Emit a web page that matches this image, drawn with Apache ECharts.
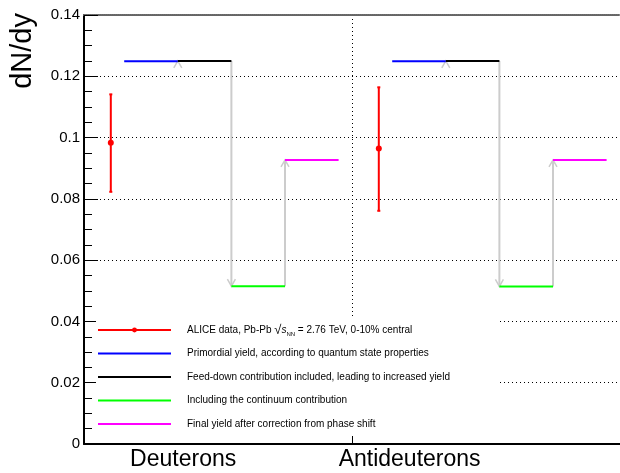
<!DOCTYPE html>
<html>
<head>
<meta charset="utf-8">
<script src="https://cdn.jsdelivr.net/npm/echarts@6/dist/echarts.min.js"></script>
<style>
html, body { margin: 0; padding: 0; background: #fff; }
#chart { width: 620px; height: 473px; }
</style>
</head>
<body>
<div id="chart"></div>
<script>
// 两个粒子种类
var categories = ['Deuterons', 'Antideuterons'];
var labelPos = [0.37, 1.215];
// ALICE 数据点和误差
var dataX = [0.1, 1.1];
var dataY = [0.0983, 0.0964];
var dataLo = [0.0823, 0.0761];
var dataHi = [0.1141, 0.1164];
// 各个阶段的产额
var primordial = [0.1249, 0.1249];
var feeddown = [0.125, 0.125];
var continuum = [0.0515, 0.0514];
var finalYield = [0.0927, 0.0927];
// 每段台阶在 bin 里的起止 x
var segEdges = [0.15, 0.35, 0.55, 0.75, 0.95];

var names = [
    'ALICE data, Pb-Pb sqrt(sNN) = 2.76 TeV, 0-10% central',
    'Primordial yield, according to quantum state properties',
    'Feed-down contribution included, leading to increased yield',
    'Including the continuum contribution',
    'Final yield after correction from phase shift'
];

// 生成台阶线段，中间用 '-' 断开
function steps(vals, i) {
    var d = [];
    for (var k = 0; k < vals.length; k++) {
        if (k > 0) d.push([k, '-']);
        d.push([k + segEdges[i], vals[k]]);
        d.push([k + segEdges[i + 1], vals[k]]);
    }
    return d;
}

var pts = [];
for (var k = 0; k < dataX.length; k++) {
    if (k > 0) pts.push([(dataX[k - 1] + dataX[k]) / 2, '-']);
    pts.push([dataX[k], dataY[k]]);
}

var errs = [];
for (var k = 0; k < dataX.length; k++) errs.push([dataX[k], dataLo[k], dataHi[k]]);

// 灰色箭头: [x, 起点, 终点]
var arrows = [];
for (var k = 0; k < primordial.length; k++) {
    arrows.push([k + segEdges[1], primordial[k], feeddown[k]]);
    arrows.push([k + segEdges[2], feeddown[k], continuum[k]]);
    arrows.push([k + segEdges[3], continuum[k], finalYield[k]]);
}

// 图例: 只有第一个有圆点
var legendData = names.map(function (n, i) {
    return i === 0 ? { name: n } : { name: n, itemStyle: { opacity: 0 } };
});

var myChart = echarts.init(document.getElementById('chart'));
myChart.setOption({
    animation: false,
    textStyle: { fontFamily: 'Liberation Sans, Arial, sans-serif' },
    grid: { left: 84, right: -4, top: 15, bottom: 29 },
    xAxis: [{
        type: 'value', min: 0, max: 2, interval: 1, position: 'bottom',
        axisLine: { lineStyle: { color: '#000', width: 2 } },
        axisTick: { show: true, inside: true, length: 9, customValues: [1], lineStyle: { color: '#000' } },
        axisLabel: {
            customValues: labelPos, fontSize: 23, color: '#000', margin: 4,
            formatter: function (v) {
                var i = labelPos.indexOf(v);
                return i < 0 ? '' : categories[i];
            }
        },
        splitLine: { show: true, lineStyle: { type: [1, 3], color: '#000' } }
    }, {
        type: 'value', min: 0, max: 2, position: 'top',
        axisLine: { show: true, lineStyle: { color: '#666', width: 2, type: [1, 1] } },
        axisTick: { show: false }, axisLabel: { show: false }, splitLine: { show: false }
    }],
    yAxis: {
        type: 'value', min: 0, max: 0.14, interval: 0.02,
        name: 'dN/dy', nameLocation: 'end', nameRotate: 90, nameGap: 2,
        nameTextStyle: { fontSize: 29, color: '#000', align: 'right', verticalAlign: 'bottom', padding: [0, 0, 47, 0] },
        axisLine: { show: true, lineStyle: { color: '#000', width: 2 } },
        axisTick: { show: true, inside: true, length: 14, lineStyle: { color: '#000' } },
        minorTick: { show: true, splitNumber: 4, length: 8, lineStyle: { color: '#000' } },
        axisLabel: { fontSize: 15, color: '#000', margin: 4 },
        splitLine: { show: true, lineStyle: { type: [1, 3], color: '#000' } }
    },
    legend: {
        orient: 'vertical', left: 96, top: 317,
        padding: [6, 49, 5, 1],
        backgroundColor: '#fff',
        itemWidth: 73, itemHeight: 6, itemGap: 9.5,
        data: legendData,
        textStyle: {
            fontSize: 10, color: '#000', lineHeight: 14, padding: [0, 0, 0, 11],
            rich: {
                a: { fontSize: 10, lineHeight: 14 },
                r: { fontSize: 13, lineHeight: 14 },
                s: { fontSize: 10, fontStyle: 'italic', lineHeight: 14 },
                n: { fontSize: 6, lineHeight: 10, verticalAlign: 'bottom' }
            }
        },
        formatter: function (name) {
            if (name === names[0]) return '{a|ALICE data, Pb-Pb }{r|√}{s|s}{n|NN}{a| = 2.76 TeV, 0-10% central}';
            return name;
        }
    },
    series: [{
        // 箭头
        type: 'custom',
        data: arrows,
        z: 1,
        renderItem: function (params, api) {
            var p0 = api.coord([api.value(0), api.value(1)]);
            var p1 = api.coord([api.value(0), api.value(2)]);
            var dir = p1[1] < p0[1] ? 1 : -1;
            var h = 7, w = 4;
            return {
                type: 'group',
                children: [{
                    type: 'line',
                    shape: { x1: p0[0], y1: p0[1], x2: p1[0], y2: p1[1] },
                    style: { stroke: '#cccccc', lineWidth: 2 }
                }, {
                    type: 'polyline',
                    shape: { points: [[p1[0] - w, p1[1] + dir * h], [p1[0], p1[1]], [p1[0] + w, p1[1] + dir * h]] },
                    style: { stroke: '#cccccc', lineWidth: 1.5, fill: null }
                }]
            };
        }
    }, {
        name: names[1], type: 'line', symbol: 'none', data: steps(primordial, 0),
        lineStyle: { color: '#0000ff', width: 2 }, itemStyle: { color: '#0000ff' }
    }, {
        name: names[2], type: 'line', symbol: 'none', data: steps(feeddown, 1),
        lineStyle: { color: '#000000', width: 2 }, itemStyle: { color: '#000000' }
    }, {
        name: names[3], type: 'line', symbol: 'none', data: steps(continuum, 2),
        lineStyle: { color: '#00ff00', width: 2 }, itemStyle: { color: '#00ff00' }
    }, {
        name: names[4], type: 'line', symbol: 'none', data: steps(finalYield, 3),
        lineStyle: { color: '#ff00ff', width: 2 }, itemStyle: { color: '#ff00ff' }
    }, {
        // 误差棒
        type: 'custom',
        data: errs,
        renderItem: function (params, api) {
            var lo = api.coord([api.value(0), api.value(1)]);
            var hi = api.coord([api.value(0), api.value(2)]);
            var st = { stroke: '#ff0000', lineWidth: 2 };
            return {
                type: 'group',
                children: [
                    { type: 'line', shape: { x1: lo[0], y1: lo[1], x2: hi[0], y2: hi[1] }, style: st },
                    { type: 'line', shape: { x1: lo[0] - 1.5, y1: lo[1], x2: lo[0] + 1.5, y2: lo[1] }, style: st },
                    { type: 'line', shape: { x1: hi[0] - 1.5, y1: hi[1], x2: hi[0] + 1.5, y2: hi[1] }, style: st }
                ]
            };
        }
    }, {
        name: names[0], type: 'line', data: pts,
        symbol: 'circle', symbolSize: 6, showSymbol: true,
        lineStyle: { color: '#ff0000', width: 2 }, itemStyle: { color: '#ff0000' }
    }]
});
</script>
</body>
</html>
